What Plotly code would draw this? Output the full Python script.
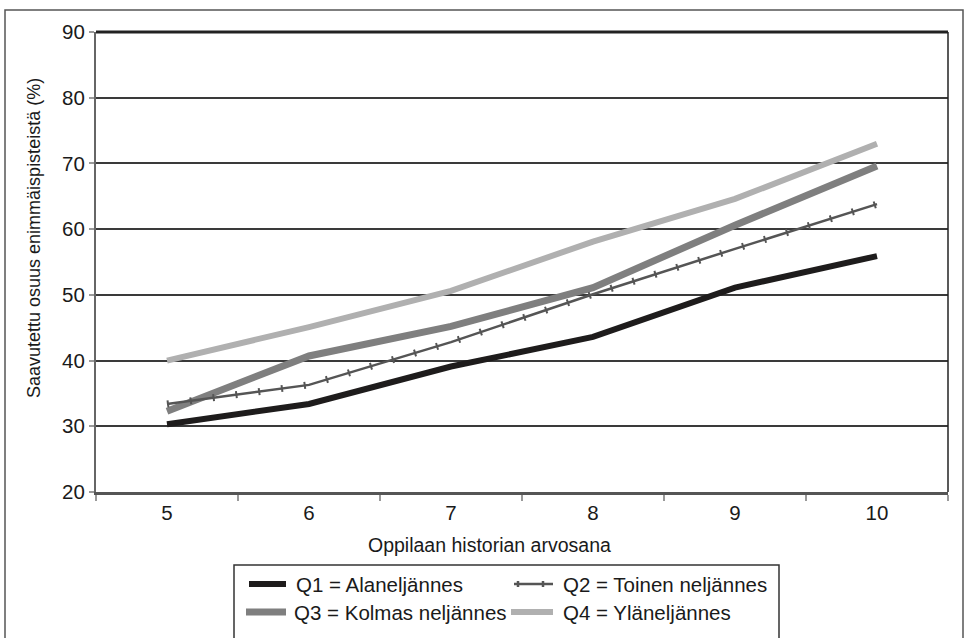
import plotly.graph_objects as go

# Grades on the x axis and the mean share of maximum points per quartile group
grades = ["5", "6", "7", "8", "9", "10"]
q1_values = [30.3, 33.4, 39.1, 43.6, 51.1, 55.9]
q2_values = [33.4, 36.3, 42.8, 50.1, 57.0, 63.8]
q3_values = [32.3, 40.7, 45.2, 51.1, 60.6, 69.6]
q4_values = [40.0, 45.1, 50.6, 58.1, 64.6, 73.0]

series_names = [
    "Q1 = Alaneljännes",
    "Q2 = Toinen neljännes",
    "Q3 = Kolmas neljännes",
    "Q4 = Yläneljännes",
]
y_ticks = [20, 30, 40, 50, 60, 70, 80, 90]
x_title = "Oppilaan historian arvosana"
y_title = "Saavutettu osuus enimmäispisteistä (%)"

FONT = "Liberation Sans, Arial, sans-serif"
TEXT = "#1a1a1a"

styles = {
    "Q1": dict(color="#1e1c1c", width=6),
    "Q2": dict(color="#555555", width=2.5),
    "Q3": dict(color="#7f7f7f", width=7),
    "Q4": dict(color="#b0b0b0", width=6),
}

fig = go.Figure()
fig.add_trace(go.Scatter(x=grades, y=q4_values, name=series_names[3], mode="lines",
                         line=styles["Q4"]))
fig.add_trace(go.Scatter(x=grades, y=q3_values, name=series_names[2], mode="lines",
                         line=styles["Q3"]))
fig.add_trace(go.Scatter(x=grades, y=q2_values, name=series_names[1], mode="lines",
                         line=styles["Q2"]))
# short cross-ticks along the Q2 line
fig.add_trace(go.Scatter(x=grades, y=q2_values, mode="lines", showlegend=False,
                         hoverinfo="skip",
                         line=dict(color="#555555", width=7, dash="2px,21px")))
fig.add_trace(go.Scatter(x=grades, y=q1_values, name=series_names[0], mode="lines",
                         line=styles["Q1"]))

W, H = 969, 638
L, R, T, B = 96, 21, 32, 146
pw, ph = W - L - R, H - T - B


def px_x(p):
    return (p - L) / pw


def px_y(p):
    return (H - B - p) / ph


shapes = [
    # right edge of the plot area
    dict(type="line", xref="paper", yref="paper", x0=1, x1=1, y0=0, y1=1,
         line=dict(color="#222222", width=1.5)),
    # top edge of the plot area
    dict(type="line", xref="paper", yref="paper", x0=0, x1=1, y0=1, y1=1,
         line=dict(color="#222222", width=3)),
    # outer frame around the whole chart
    dict(type="rect", xref="paper", yref="paper",
         x0=px_x(5), x1=px_x(963), y0=px_y(660), y1=px_y(10),
         line=dict(color="#555555", width=1.5), layer="below"),
    # legend box
    dict(type="rect", xref="paper", yref="paper",
         x0=px_x(234), x1=px_x(779), y0=px_y(660), y1=px_y(565),
         line=dict(color="#333333", width=1.5), fillcolor="white", layer="below"),
]

annotations = [
    dict(text=x_title, xref="paper", yref="paper", x=px_x(489), y=px_y(545),
         xanchor="center", yanchor="middle", showarrow=False,
         font=dict(family=FONT, size=19.5, color=TEXT)),
    dict(text=y_title, xref="paper", yref="paper", x=px_x(34), y=px_y(238),
         xanchor="center", yanchor="middle", showarrow=False, textangle=-90,
         font=dict(family=FONT, size=18, color=TEXT)),
]

# legend entries: (style key, label, sample x0, sample x1, text x, row y)
legend_rows = [
    ("Q1", series_names[0], 249, 286, 294, 584),
    ("Q2", series_names[1], 514, 553, 561, 584),
    ("Q3", series_names[2], 246, 286, 292, 612),
    ("Q4", series_names[3], 511, 553, 561, 612),
]
for key, label, sx0, sx1, tx, ry in legend_rows:
    st = styles[key]
    shapes.append(dict(type="line", xref="paper", yref="paper",
                       x0=px_x(sx0), x1=px_x(sx1), y0=px_y(ry), y1=px_y(ry),
                       line=dict(color=st["color"], width=st["width"])))
    if key == "Q2":
        for tick_x in (sx0 + 4, sx1 - 10):
            shapes.append(dict(type="line", xref="paper", yref="paper",
                               x0=px_x(tick_x), x1=px_x(tick_x),
                               y0=px_y(ry - 3), y1=px_y(ry + 3),
                               line=dict(color=st["color"], width=2.5)))
    annotations.append(dict(text=label, xref="paper", yref="paper",
                            x=px_x(tx), y=px_y(ry), xanchor="left", yanchor="middle",
                            showarrow=False,
                            font=dict(family=FONT, size=20.5, color=TEXT)))

fig.update_layout(
    width=W, height=H,
    margin=dict(l=L, r=R, t=T, b=B, autoexpand=False),
    paper_bgcolor="white", plot_bgcolor="white",
    font=dict(family=FONT, size=20, color=TEXT),
    showlegend=False,
    xaxis=dict(
        type="category",
        tickson="boundaries",
        ticks="outside", ticklen=6, tickwidth=2, tickcolor="#999999",
        showline=True, linecolor="#555555", linewidth=3,
        showgrid=False,
        tickfont=dict(family=FONT, size=20.5, color=TEXT),
        range=[-0.5, 5.5],
    ),
    yaxis=dict(
        range=[20, 90],
        tickvals=y_ticks,
        ticks="outside", ticklen=5, tickwidth=2, tickcolor="#999999",
        showline=True, linecolor="#666666", linewidth=2,
        showgrid=True, gridcolor="#3a3a3a", gridwidth=2,
        zeroline=False,
        tickfont=dict(family=FONT, size=20.5, color=TEXT),
    ),
    shapes=shapes,
    annotations=annotations,
)

fig.write_html("out.html")
